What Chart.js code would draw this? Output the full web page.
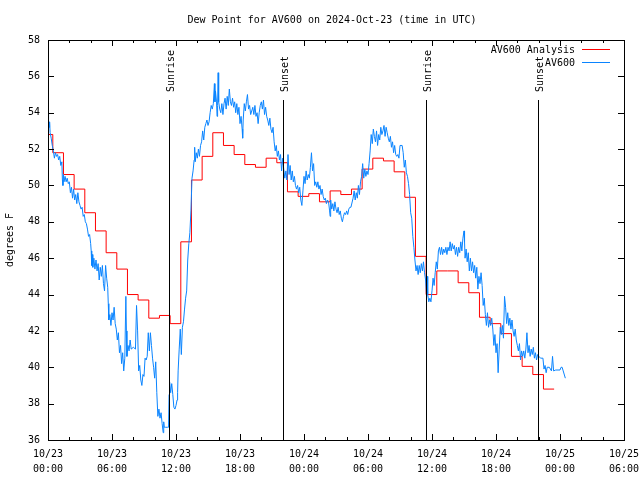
<!DOCTYPE html>
<html>
<head>
<meta charset="utf-8">
<script src="https://cdn.jsdelivr.net/npm/chart.js@4.4.1/dist/chart.umd.min.js"></script>
<style>
html, body { margin: 0; padding: 0; background: #fff; }
canvas { display: block; }
</style>
</head>
<body>
<canvas id="chart" width="640" height="480"></canvas>
<script>
// hours after 10/23 00:00 UTC
const obsHours = [
  0.00, 0.05, 0.10, 0.15, 0.20, 0.30, 0.40, 0.50, 0.60, 0.70, 0.80, 0.90,
  1.00, 1.10, 1.20, 1.30, 1.35, 1.40, 1.45, 1.50, 1.60, 1.70, 1.80, 1.90,
  2.00, 2.10, 2.20, 2.30, 2.40, 2.50, 2.60, 2.70, 2.80, 2.90,
  3.00, 3.10, 3.20, 3.30, 3.40, 3.50, 3.60, 3.70, 3.80, 3.90,
  4.00, 4.05, 4.10, 4.15, 4.20, 4.30, 4.40, 4.50, 4.60, 4.70, 4.80, 4.90,
  5.00, 5.10, 5.20, 5.30, 5.40, 5.50, 5.60, 5.65, 5.70, 5.80, 5.90,
  6.00, 6.10, 6.20, 6.30, 6.40, 6.50, 6.60, 6.70, 6.80, 6.90,
  7.00, 7.10, 7.20, 7.30, 7.35, 7.40, 7.50, 7.60, 7.70, 7.80,
  8.00, 8.20, 8.30, 8.40, 8.50, 8.60, 8.70, 8.80, 8.90,
  9.00, 9.10, 9.20, 9.30, 9.40, 9.50, 9.60, 9.70, 9.80, 9.90,
  10.00, 10.10, 10.20, 10.30, 10.40, 10.50, 10.60, 10.70, 10.80, 10.85, 10.90,
  11.00, 11.20, 11.30, 11.35, 11.40, 11.50, 11.60, 11.70, 11.80, 11.90,
  12.00, 12.10, 12.15, 12.20, 12.30, 12.40, 12.50, 12.60, 12.70, 12.80, 12.90,
  13.00, 13.10, 13.20, 13.30, 13.40, 13.50, 13.60, 13.70, 13.75, 13.80, 13.90,
  14.00, 14.10, 14.20, 14.30, 14.40, 14.50, 14.60, 14.70, 14.80, 14.90,
  15.00, 15.10, 15.20, 15.30, 15.40, 15.50, 15.60, 15.65, 15.70, 15.80, 15.85, 15.90, 15.95,
  16.00, 16.10, 16.20, 16.30, 16.40, 16.50, 16.60, 16.70, 16.80, 16.90,
  17.00, 17.10, 17.20, 17.30, 17.40, 17.50, 17.60, 17.70, 17.80, 17.90,
  18.00, 18.10, 18.20, 18.25, 18.30, 18.40, 18.50, 18.60, 18.70, 18.80, 18.90,
  19.00, 19.20, 19.30, 19.40, 19.50, 19.60, 19.70, 19.80, 19.90,
  20.00, 20.10, 20.20, 20.30, 20.40, 20.50, 20.60, 20.70, 20.80, 20.90,
  21.00, 21.10, 21.20, 21.30, 21.40, 21.50, 21.60, 21.70, 21.80, 21.90,
  22.00, 22.10, 22.20, 22.30, 22.40, 22.50, 22.60, 22.70, 22.80, 22.90,
  23.00, 23.10, 23.20, 23.30, 23.40, 23.50, 23.60, 23.70, 23.80, 23.90,
  24.00, 24.10, 24.20, 24.30, 24.40, 24.50, 24.60, 24.70, 24.80, 24.90,
  25.00, 25.10, 25.20, 25.30, 25.40, 25.50, 25.60, 25.70, 25.80, 25.90,
  26.00, 26.10, 26.20, 26.30, 26.40, 26.45, 26.50, 26.60, 26.70, 26.80, 26.90,
  27.00, 27.10, 27.20, 27.30, 27.40, 27.50, 27.60, 27.70, 27.80, 27.90,
  28.00, 28.10, 28.20, 28.30, 28.40, 28.60, 28.70, 28.80, 28.90,
  29.00, 29.10, 29.20, 29.30, 29.40, 29.50, 29.60, 29.70, 29.80, 29.90,
  30.00, 30.10, 30.20, 30.30, 30.40, 30.50, 30.60, 30.70, 30.80, 30.90,
  31.00, 31.10, 31.20, 31.30, 31.40, 31.50, 31.60, 31.70, 31.80, 31.90,
  32.00, 32.10, 32.20, 32.30, 32.40, 32.50, 32.60, 32.70, 32.80, 32.90,
  33.00, 33.20, 33.30, 33.40, 33.50, 33.60, 33.70, 33.80, 33.90,
  34.00, 34.10, 34.20, 34.30, 34.40, 34.50, 34.60, 34.70, 34.80, 34.90,
  35.00, 35.10, 35.20, 35.30, 35.40, 35.50, 35.55, 35.60, 35.70, 35.80, 35.90,
  36.00, 36.10, 36.20, 36.30, 36.40, 36.50, 36.60, 36.70, 36.80, 36.90,
  37.00, 37.10, 37.20, 37.30, 37.40, 37.50, 37.60, 37.70, 37.80, 37.90,
  38.00, 38.10, 38.20, 38.30, 38.40, 38.50, 38.60, 38.70, 38.80, 38.90,
  39.00, 39.05, 39.10, 39.20, 39.30, 39.40, 39.50, 39.60, 39.70, 39.80, 39.90,
  40.00, 40.10, 40.20, 40.30, 40.40, 40.50, 40.60, 40.70, 40.80, 40.90,
  41.00, 41.10, 41.20, 41.30, 41.40, 41.50, 41.60, 41.70, 41.80, 41.90,
  42.00, 42.10, 42.20, 42.30, 42.40, 42.50, 42.60, 42.70, 42.80, 42.90,
  43.00, 43.10, 43.20, 43.30, 43.40, 43.50, 43.60, 43.70, 43.80, 43.90,
  44.00, 44.10, 44.20, 44.30, 44.40, 44.50, 44.60, 44.70, 44.80, 44.90,
  45.00, 45.10, 45.20, 45.30, 45.40, 45.50, 45.60, 45.70, 45.80, 45.90,
  46.00, 46.20, 46.40, 46.50, 46.60, 46.70, 46.80,
  47.00, 47.20, 47.30, 47.40, 47.60, 48.00, 48.10, 48.20, 48.30, 48.50
];
// AV600 observed dew point, degrees F
const obsDewpt = [
  54.0, 53.6, 53.2, 53.5, 52.9, 52.6, 52.2, 51.9, 51.5, 51.8, 51.6, 51.7,
  51.4, 51.6, 51.1, 51.3, 50.3, 50.0, 50.6, 50.2, 50.5, 50.2, 50.4, 50.1,
  50.2, 49.6, 49.9, 49.3, 49.8, 49.2, 49.5, 49.0, 49.6, 49.1,
  48.9, 48.7, 48.8, 48.3, 48.4, 48.0, 47.9, 47.6, 47.2, 47.3,
  46.8, 46.4, 45.6, 46.2, 45.5, 46.0, 45.4, 45.9, 45.3, 45.7, 44.8, 45.5,
  45.0, 45.6, 44.6, 44.2, 45.6, 44.9, 44.4, 43.5, 42.6, 42.9, 42.3,
  43.0, 42.6, 43.3, 42.4, 42.1, 41.5, 41.9, 40.8, 41.2, 40.2,
  40.8, 39.8, 40.5, 43.9, 42.0, 40.6, 41.2, 40.9, 41.5, 41.0,
  41.1, 41.0, 43.4, 42.0, 39.8, 40.1, 39.3, 39.0, 39.6,
  39.5, 40.5, 40.4, 40.6, 41.9, 40.9, 41.9, 41.2, 40.5, 40.0,
  39.4, 40.3, 38.6, 37.3, 37.7, 37.2, 37.5, 36.9, 36.4, 37.0, 36.7,
  36.7, 36.7, 36.7, 38.5, 39.2, 38.6, 39.1, 38.5, 37.8, 37.7,
  37.9, 38.2, 38.6, 39.8, 41.0, 42.1, 40.7, 42.2, 42.5, 43.2, 43.8,
  44.2, 45.9, 46.8, 47.4, 48.6, 50.4, 50.8, 51.4, 52.1, 51.3, 51.8,
  51.5, 52.0, 51.6, 52.2, 52.4, 53.0, 52.5, 53.2, 53.4, 53.6,
  53.3, 53.5, 54.0, 54.4, 54.2, 54.5, 55.6, 54.6, 55.2, 54.6, 53.8, 54.4, 56.2,
  54.6, 54.2, 54.0, 54.5, 53.9, 54.5, 54.8, 54.2, 54.9, 54.4,
  55.3, 54.6, 54.4, 54.8, 54.3, 54.6, 54.0, 54.5, 53.9, 54.3,
  53.4, 53.8, 53.1, 52.6, 53.6, 54.5, 54.1, 54.6, 55.0, 54.2, 54.4,
  53.9, 54.3, 53.9, 54.4, 53.8, 54.0, 53.4, 54.0, 54.4,
  54.6, 54.2, 54.7, 53.9, 54.3, 53.8, 53.6, 53.3, 53.7, 53.1,
  52.9, 53.2, 52.4, 51.9, 52.2, 51.6, 51.9, 51.4, 51.7, 50.8,
  51.5, 50.9, 50.4, 50.8, 50.3, 51.7, 50.6, 51.1, 50.3, 50.8,
  50.2, 50.5, 50.0, 49.8, 50.0, 49.6, 49.9, 49.2, 48.9, 49.7,
  50.5, 50.1, 50.8, 50.3, 50.6, 50.4, 51.0, 51.8, 50.8, 51.2,
  50.0, 50.2, 49.9, 50.2, 49.8, 50.0, 49.5, 49.8, 49.4, 49.2,
  49.3, 49.0, 49.2, 49.1, 48.6, 48.3, 49.2, 48.7, 49.0, 48.6, 49.1,
  48.7, 48.5, 48.8, 48.4, 48.6, 48.2, 48.0, 48.3, 48.5, 48.4,
  48.6, 48.4, 48.7, 48.8, 48.8, 49.3, 49.7, 49.2, 49.6,
  49.3, 50.0, 49.5, 50.2, 50.5, 51.2, 50.4, 50.9, 50.5, 50.8,
  50.6, 51.2, 51.9, 52.8, 52.3, 53.1, 52.7, 52.4, 53.0, 52.2,
  52.8, 52.5, 53.2, 52.8, 53.0, 53.3, 52.7, 53.2, 52.9, 52.6,
  52.4, 52.7, 52.1, 52.4, 51.8, 52.2, 51.7, 51.6, 51.7, 51.5,
  52.2, 52.2, 51.8, 51.0, 51.4, 50.7, 50.5, 50.1, 49.5,
  48.5, 48.2, 47.2, 46.6, 45.9, 45.3, 45.6, 45.1, 45.6, 45.2,
  45.7, 45.3, 45.8, 45.2, 44.8, 43.9, 45.0, 44.0, 43.6, 43.8, 43.6,
  44.2, 44.9, 44.5, 45.2, 45.8, 45.4, 46.4, 46.6, 46.2, 46.6,
  46.2, 46.5, 46.3, 46.6, 46.2, 46.6, 46.4, 46.9, 46.4, 46.8,
  46.5, 46.7, 46.2, 46.6, 46.1, 46.6, 46.3, 46.9, 46.4, 47.1,
  47.5, 46.9, 46.0, 46.5, 45.8, 46.3, 45.3, 46.0, 45.3, 45.8, 45.2,
  45.6, 44.9, 45.5, 44.3, 45.0, 44.6, 45.2, 44.5, 43.4, 43.8,
  42.9, 42.3, 43.0, 42.2, 42.6, 42.3, 42.7, 42.1, 41.2, 41.8,
  40.8, 41.3, 39.7, 41.0, 42.2, 41.8, 42.3, 41.6, 43.9, 43.3,
  42.4, 43.0, 42.3, 42.7, 42.1, 42.6, 42.0, 41.7, 42.1, 41.5,
  41.2, 40.9, 41.3, 40.4, 40.9, 40.6, 40.9, 40.5, 41.0, 41.9,
  40.8, 41.2, 40.6, 41.0, 40.7, 41.1, 40.5, 40.8, 40.4, 40.7,
  40.6, 40.5, 40.5, 39.9, 40.1, 39.7, 40.0,
  40.0, 39.8, 40.6, 39.8, 39.85, 39.85, 40.0, 40.0, 39.8, 39.4
];

// hourly analysis, first step starts at 10/22 23:27
const analysisStart = -0.55;
const analysisDewpt = [
  52.8, 51.8, 50.6, 49.8, 48.5, 47.5, 46.3, 45.4, 44.0, 43.7, 42.7, 42.85,
  42.4, 46.9, 50.3, 51.6, 52.9, 52.2, 51.7, 51.15, 51.0, 51.5, 51.25, 49.65,
  49.4, 49.55, 49.1, 49.7, 49.5, 49.8, 50.9, 51.5, 51.35, 50.75, 49.35, 46.1,
  44.0, 45.3, 45.3, 44.65, 44.1, 42.75, 42.4, 41.85, 40.6, 40.05, 39.6, 38.8,
  38.8
];

const sunHours = [11.37, 22.03, 35.43, 45.98];
const sunLabels = ['Sunrise', 'Sunset', 'Sunrise', 'Sunset'];

const xTickStep = 6;
const yTicks = [36, 58, 2];

const mono = "'DejaVu Sans Mono', 'Liberation Mono', monospace";
Chart.defaults.font.family = mono;
Chart.defaults.font.size = 10;
Chart.defaults.color = '#000';

const obsPoints = obsHours.map((h, i) => ({ x: h, y: obsDewpt[i] }));
const analysisPoints = analysisDewpt.map((v, i) => ({ x: analysisStart + i, y: v }));

const pad = (n) => String(n).padStart(2, '0');

//gnuplot style frame, ticks, title, legend and sun markers
const frame = {
	id: 'frame',
	afterDatasetsDraw(chart) {
		const { ctx, chartArea: a, scales } = chart;
		const xs = scales.x;
		const ys = scales.y;
		ctx.save();
		ctx.strokeStyle = '#000';
		ctx.fillStyle = '#000';
		ctx.lineWidth = 1;
		ctx.font = '10px ' + mono;

		// sunrise / sunset lines
		const h = a.bottom - a.top;
		sunHours.forEach((t, i) => {
			const px = Math.round(xs.getPixelForValue(t)) + 0.5;
			ctx.beginPath();
			ctx.moveTo(px, a.bottom);
			ctx.lineTo(px, a.bottom - h * 0.85);
			ctx.stroke();
			ctx.save();
			ctx.translate(px + 2, a.bottom - h * 0.87);
			ctx.rotate(-Math.PI / 2);
			ctx.textAlign = 'left';
			ctx.textBaseline = 'middle';
			ctx.fillText(sunLabels[i], 0, 0);
			ctx.restore();
		});

		// border
		ctx.strokeRect(a.left + 0.5, a.top + 0.5, a.right - a.left, a.bottom - a.top);

		// x ticks, minor every 2 hours
		ctx.beginPath();
		for (let t = xs.min; t <= xs.max; t += 2) {
			const px = Math.round(xs.getPixelForValue(t)) + 0.5;
			const len = t % xTickStep === 0 ? 6 : 3;
			ctx.moveTo(px, a.bottom);
			ctx.lineTo(px, a.bottom - len);
			ctx.moveTo(px, a.top);
			ctx.lineTo(px, a.top + len);
		}
		// y ticks
		for (let v = yTicks[0]; v <= yTicks[1]; v += yTicks[2]) {
			const py = Math.round(ys.getPixelForValue(v)) + 0.5;
			ctx.moveTo(a.left, py);
			ctx.lineTo(a.left + 6, py);
			ctx.moveTo(a.right, py);
			ctx.lineTo(a.right - 6, py);
		}
		ctx.stroke();

		// title
		ctx.textAlign = 'center';
		ctx.textBaseline = 'middle';
		ctx.fillText('Dew Point for AV600 on 2024-Oct-23 (time in UTC)', 332, 20);

		// legend (text right of a short line sample)
		const legendOrder = [1, 0];
		legendOrder.forEach((di, row) => {
			const ds = chart.data.datasets[di];
			const ly = 50 + row * 13;
			ctx.textAlign = 'right';
			ctx.fillStyle = '#000';
			ctx.fillText(ds.label, 575, ly);
			ctx.strokeStyle = ds.borderColor;
			ctx.beginPath();
			ctx.moveTo(582, ly - 0.5);
			ctx.lineTo(610, ly - 0.5);
			ctx.stroke();
		});
		ctx.restore();
	},
};

new Chart(document.getElementById('chart'), {
	type: 'line',
	plugins: [frame],
	data: {
		datasets: [
			{
				label: 'AV600',
				data: obsPoints,
				borderColor: '#0a84ff',
				borderWidth: 1,
				pointRadius: 0,
				tension: 0,
				clip: 0,
				order: 1,
			},
			{
				label: 'AV600 Analysis',
				data: analysisPoints,
				borderColor: '#ff0000',
				borderWidth: 1,
				pointRadius: 0,
				// horizontal then vertical, like gnuplot "steps"
				stepped: 'before',
				clip: 0,
				order: 2,
			},
		],
	},
	options: {
		responsive: false,
		animation: false,
		devicePixelRatio: 1,
		layout: { padding: { top: 40, right: 16, left: 0, bottom: 0 } },
		plugins: {
			legend: { display: false },
			title: { display: false },
			tooltip: { enabled: false },
		},
		scales: {
			x: {
				type: 'linear',
				min: 0,
				max: 54,
				afterFit: (scale) => {
					scale.height = 40;
					scale.paddingLeft = 0;
					scale.paddingRight = 0;
				},
				grid: { display: false, drawTicks: false, tickLength: 0 },
				border: { display: false },
				ticks: {
					stepSize: xTickStep,
					autoSkip: false,
					maxRotation: 0,
					padding: 7,
					font: { size: 10, lineHeight: 1.5 },
					callback: (v) => ['10/' + (23 + Math.floor(v / 24)), pad(v % 24) + ':00'],
				},
			},
			y: {
				min: yTicks[0],
				max: yTicks[1],
				afterFit: (scale) => { scale.width = 48; },
				grid: { display: false, drawTicks: false, tickLength: 0 },
				border: { display: false },
				title: { display: true, text: 'degrees F', padding: { top: 4, bottom: 0 } },
				ticks: { stepSize: yTicks[2], padding: 8 },
			},
		},
	},
});
</script>
</body>
</html>
